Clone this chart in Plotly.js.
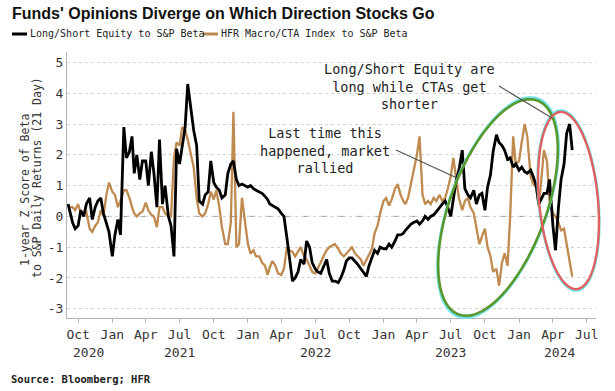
<!DOCTYPE html>
<html>
<head>
<meta charset="utf-8">
<script src="https://cdn.plot.ly/plotly-3.0.1.min.js"></script>
<style>
html,body{margin:0;padding:0;background:#fff;}
#chart{width:615px;height:391px;}
</style>
</head>
<body>
<div id="chart"></div>
<script>
// ---------------- DATA ----------------
// Sampling calendar: four observations per month (first month starts on the 4th)
const firstYear = 2020, firstMonth = 9, lastYear = 2024, lastMonth = 5;
const sampleDays = [1, 8, 16, 23];

// Long/Short Equity to S&P Beta (1-yr z-score), Sep 2020 .. May 2024
const lseBeta = [
  0.4, 0.2, -0.2, -0.4,      // 2020 Sep
  -0.3, 0.2, 0.0, 0.4,       // Oct
  0.6, -0.1, 0.3, 0.5,       // Nov
  0.6, 0.1, -0.2, -0.5,      // Dec
  -1.3, -0.6, -0.1, -0.6,    // 2021 Jan
  2.9, 1.9, 2.1, 2.6,        // Feb
  1.4, 2.0, 1.2, 1.8,        // Mar
  1.8, 1.0, 2.1, 1.4,        // Apr
  0.3, 2.5, 0.4, 1.0,        // May
  0.0, -0.3, -1.3, 2.2,      // Jun
  1.7, 2.3, 2.9, 4.3,        // Jul
  3.4, 2.8, 2.3, 0.5,        // Aug
  0.4, 0.7, 0.8, 1.8,        // Sep
  1.1, 0.95, 0.85, 0.6,      // Oct
  0.7, 1.4, 1.7, 1.8,        // Nov
  1.2, 1.0, 1.05, 1.0,       // Dec
  0.95, 1.0, 0.9, 0.85,      // 2022 Jan
  0.8, 0.75, 0.65, 0.55,     // Feb
  0.4, 0.35, 0.3, 0.25,      // Mar
  0.1, 0.0, -0.7, -1.4,      // Apr
  -2.1, -2.0, -1.8, -1.4,    // May
  -1.55, -0.8, -1.0, -1.5,   // Jun
  -1.7, -1.8, -1.85, -1.65,  // Jul
  -1.4, -1.85, -2.1, -2.1,   // Aug
  -2.15, -2.0, -1.75, -1.45, // Sep
  -1.35, -1.35, -1.45, -1.55,// Oct
  -1.7, -1.8, -1.95, -1.6,   // Nov
  -1.3, -1.1, -1.2, -1.0,    // Dec
  -1.05, -1.05, -0.9, -1.0,  // 2023 Jan
  -0.8, -0.6, -0.6, -0.55,   // Feb
  -0.45, -0.35, -0.25, -0.2, // Mar
  -0.15, -0.25, -0.15, 0.0,  // Apr
  -0.1, 0.0, 0.05, 0.15,     // May
  0.3, 0.4, 0.5, 0.3,        // Jun
  0.0, 0.6, 1.2, 1.5,        // Jul
  2.15, 0.9, 0.7, 0.6,       // Aug
  0.85, 0.4, 0.7, 0.75,      // Sep
  0.2, 0.95, 1.35, 2.1,      // Oct
  2.65, 2.4, 2.3, 2.15,      // Nov
  1.85, 1.9, 1.6, 1.7,       // Dec
  1.5, 1.6, 1.45, 1.4,       // 2024 Jan
  1.5, 1.3, 1.0, 0.4,        // Feb
  0.6, 0.75, 0.75, 1.2,      // Mar
  -0.3, -1.1, 0.3, 1.2,      // Apr
  1.7, 2.7, 3.0, 2.15        // May
];

// HFR Macro/CTA Index to S&P Beta (1-yr z-score), Sep 2020 .. May 2024
const hfrBeta = [
  0.3, 0.3, 0.3, 0.2,        // 2020 Sep
  0.4, 0.1, 0.1, 0.15,       // Oct
  -0.4, -0.5, -0.3, -0.2,    // Nov
  0.2, 0.0, 0.7, 1.1,        // Dec
  0.8, 0.7, 0.3, 0.5,        // 2021 Jan
  0.85, 0.85, 0.6, 0.3,      // Feb
  0.1, 0.0, 0.1, 0.15,       // Mar
  0.45, 0.2, 0.05, 0.0,      // Apr
  -0.35, 0.3, 0.3, 0.1,      // May
  0.0, 0.0, 1.9, 2.4,        // Jun
  2.3, 2.9, 2.8, 2.5,        // Jul
  2.0, 1.6, 0.6, 0.1,        // Aug
  0.0, 0.1, 0.4, 0.8,        // Sep
  0.55, 0.85, 0.3, -0.35,    // Oct
  -0.9, -0.9, -0.2, 3.4,     // Nov
  -1.0, -0.9, 0.6, 0.0,      // Dec
  -0.9, -1.2, -1.1, -1.3,    // 2022 Jan
  -1.3, -1.5, -1.6, -1.9,    // Feb
  -1.65, -1.45, -1.6, -1.85, // Mar
  -1.9, -1.7, -1.0, -1.1,    // Apr
  -1.15, -1.3, -1.15, -1.0,  // May
  -1.3, -1.4, -1.6, -1.8,    // Jun
  -1.85, -1.7, -1.5, -1.3,   // Jul
  -1.1, -1.0, -0.95, -0.9,   // Aug
  -1.05, -1.2, -1.3, -1.2,   // Sep
  -1.1, -1.0, -1.2, -1.3,    // Oct
  -1.4, -1.6, -1.4, -1.25,   // Nov
  -1.05, -0.55, -0.3, 0.1,   // Dec
  0.5, 0.6, 0.35, 0.55,      // 2023 Jan
  0.9, 1.05, 0.7, 0.5,       // Feb
  0.4, 0.6, 1.1, 1.5,        // Mar
  2.0, 2.6, 0.7, 0.4,        // Apr
  0.5, 0.4, 0.6, 0.5,        // May
  0.7, 0.5, 0.6, 0.9,        // Jun
  1.3, 1.9, 1.2, 0.6,        // Jul
  0.2, 0.5, 0.6, 0.3,        // Aug
  0.1, -0.4, -0.9, -0.65,    // Sep
  -0.4, -1.0, -1.3, -1.8,    // Oct
  -1.7, -2.25, -1.5, -1.2,   // Nov
  -1.6, 0.0, 2.6, 1.7,       // Dec
  1.8, 2.4, 3.0, 2.6,        // 2024 Jan
  1.3, 1.05, 0.95, 0.3,      // Feb
  1.3, 2.15, 1.8, 0.5,       // Mar
  0.1, 0.0, -0.2, -0.45,     // Apr
  -0.4, -0.9, -1.5, -1.95    // May
];

const seriesNames = ['Long/Short Equity to S&P Beta', 'HFR Macro/CTA Index to S&P Beta'];

const tickDates = ['2020-10-01','2021-01-01','2021-04-01','2021-07-01','2021-10-01','2022-01-01',
  '2022-04-01','2022-07-01','2022-10-01','2023-01-01','2023-04-01','2023-07-01','2023-10-01',
  '2024-01-01','2024-04-01','2024-07-01'];
const tickLabels = ['Oct','Jan','Apr','Jul','Oct','Jan','Apr','Jul','Oct','Jan','Apr','Jul','Oct','Jan','Apr','Jul'];
const yearLabels = ['2020','2021','2022','2023','2024'];
const yearLabelDates = ['2020-10-28','2021-07-01','2022-07-01','2023-07-01','2024-04-20'];
const yTickVals = [-3,-2,-1,0,1,2,3,4,5];
const yTickText = ['-3','-2','-1','0','1','2','3','4','5'];

// ---------------- BUILD ----------------
function pad2(n){ return String(n).padStart(2,'0'); }
function buildDates(){
  const out = [];
  let y = firstYear, m = firstMonth;
  while (y < lastYear || (y === lastYear && m <= lastMonth)) {
    sampleDays.forEach(function(d){
      const day = (y === firstYear && m === firstMonth && d === 1) ? 4 : d;
      out.push(y + '-' + pad2(m) + '-' + pad2(day));
    });
    m++; if (m > 12) { m = 1; y++; }
  }
  return out;
}
const dates = buildDates();

// geometry (pixels)
const W = 615, H = 391;
const M = {l: 67, r: 19, t: 52, b: 73};
const PW = W - M.l - M.r, PH = H - M.t - M.b;
function px(x){ return (x - M.l) / PW; }
function py(y){ return (H - M.b - y) / PH; }

function ellipsePath(cx, cy, a, b, phiDeg){
  const phi = phiDeg * Math.PI / 180;
  let p = '';
  for (let k = 0; k <= 96; k++) {
    const t = k / 96 * 2 * Math.PI;
    const ux = a * Math.cos(t), uy = b * Math.sin(t);
    const dx = ux * Math.cos(phi) - uy * Math.sin(phi);
    const dy = ux * Math.sin(phi) + uy * Math.cos(phi);
    p += (k ? 'L' : 'M') + px(cx + dx).toFixed(5) + ',' + py(cy - dy).toFixed(5);
  }
  return p + 'Z';
}

const MONO = 'DejaVu Sans Mono, monospace';
const BLACK = '#000000', TAN = '#BF8A4F';

const traces = [
  {x: dates, y: hfrBeta, type: 'scatter', mode: 'lines', name: seriesNames[1],
   line: {color: TAN, width: 2.3}},
  {x: dates, y: lseBeta, type: 'scatter', mode: 'lines', name: seriesNames[0],
   line: {color: BLACK, width: 2.8}}
];

const shapes = [
  {type:'line', xref:'paper', yref:'y', x0:0, x1:1, y0:0, y1:0, layer:'below',
   line:{color:'#999999', width:1, dash:'dash'}},
  // legend samples
  {type:'line', xref:'paper', yref:'paper', x0:px(12), x1:px(27), y0:py(34), y1:py(34),
   line:{color:BLACK, width:3}},
  {type:'line', xref:'paper', yref:'paper', x0:px(203), x1:px(218), y0:py(34), y1:py(34),
   line:{color:TAN, width:3}},
  // ellipse glows
  {type:'path', xref:'paper', yref:'paper', path: ellipsePath(498, 207.5, 116, 48.5, 69.8),
   line:{color:'#6FE3EA', width:2.5}, fillcolor:'rgba(0,0,0,0)', layer:'above'},
  {type:'path', xref:'paper', yref:'paper', path: ellipsePath(568.5, 200.5, 90.5, 29.8, 95.4),
   line:{color:'#6FE3EA', width:2.5}, fillcolor:'rgba(0,0,0,0)', layer:'above'},
  // ellipses
  {type:'path', xref:'paper', yref:'paper', path: ellipsePath(498, 207.5, 114, 48, 69.8),
   line:{color:'#58982E', width:2.6}, fillcolor:'rgba(0,0,0,0)', layer:'above'},
  {type:'path', xref:'paper', yref:'paper', path: ellipsePath(568.5, 200.5, 89, 29.4, 95.4),
   line:{color:'#E06060', width:2.4}, fillcolor:'rgba(0,0,0,0)', layer:'above'},
  // callout lines
  {type:'line', xref:'paper', yref:'paper', x0:px(396), y0:py(150), x1:px(457), y1:py(178),
   line:{color:'#555555', width:1.2}, layer:'above'},
  {type:'line', xref:'paper', yref:'paper', x0:px(499), y0:py(86), x1:px(552), y1:py(118),
   line:{color:'#555555', width:1.2}, layer:'above'}
];

const annotations = [
  // legend text
  {xref:'paper', yref:'paper', x:px(28), y:py(34), xanchor:'left', yanchor:'middle', showarrow:false,
   text:seriesNames[0], font:{family:MONO, size:10, color:'#222'}},
  {xref:'paper', yref:'paper', x:px(219), y:py(34), xanchor:'left', yanchor:'middle', showarrow:false,
   text:seriesNames[1], font:{family:MONO, size:10, color:'#222'}},
  // y-axis title lines
  {xref:'paper', yref:'paper', x:px(25), y:py(190), xanchor:'center', yanchor:'middle', showarrow:false,
   textangle:-90, text:'1-year Z Score of Beta', font:{family:MONO, size:11.5, color:'#333'}},
  {xref:'paper', yref:'paper', x:px(37), y:py(178), xanchor:'center', yanchor:'middle', showarrow:false,
   textangle:-90, text:'to S&P Daily Returns (21 Day)', font:{family:MONO, size:11.5, color:'#333'}},
  // callouts
  {xref:'paper', yref:'paper', x:px(325), y:py(150), xanchor:'center', yanchor:'middle', showarrow:false,
   align:'center', text:'Last time this<br>happened, market<br>rallied', font:{family:MONO, size:13.5, color:'#222'}},
  {xref:'paper', yref:'paper', x:px(409), y:py(86), xanchor:'center', yanchor:'middle', showarrow:false,
   align:'center', text:'Long/Short Equity are<br>long while CTAs get<br>shorter', font:{family:MONO, size:13.5, color:'#222'}},
  // source
  {xref:'paper', yref:'paper', x:px(9), y:py(379), xanchor:'left', yanchor:'middle', showarrow:false,
   text:'Source: Bloomberg; HFR', font:{family:MONO, size:10.5, color:'#222', weight:'bold'}}
];
yearLabels.forEach(function(t, i){
  annotations.push({xref:'x', yref:'paper', x:yearLabelDates[i], y:py(352), xanchor:'center', yanchor:'middle',
    showarrow:false, text:t, font:{family:MONO, size:13, color:'#333'}});
});

const layout = {
  width: W, height: H,
  margin: {l: M.l, r: M.r, t: M.t, b: M.b, pad: 0},
  paper_bgcolor: '#ffffff', plot_bgcolor: '#ffffff',
  showlegend: false,
  title: {text: "Funds' Opinions Diverge on Which Direction Stocks Go",
    font: {family: 'Liberation Sans, Arial, sans-serif', size: 16, color: '#111', weight: 700},
    xref: 'container', yref: 'container', x: 12/W, xanchor: 'left', y: 1 - 13/H, yanchor: 'middle'},
  xaxis: {type: 'date', range: ['2020-09-01', '2024-07-26'], tickvals: tickDates, ticktext: tickLabels,
    ticks: 'outside', ticklen: 4, tickcolor: '#b5b5b5', showline: true, linecolor: '#b5b5b5', linewidth: 1,
    showgrid: false, zeroline: false, tickangle: 0,
    tickfont: {family: MONO, size: 13, color: '#333'}},
  yaxis: {range: [-3.3, 5.34], tickvals: yTickVals, ticktext: yTickText,
    showline: true, linecolor: '#b5b5b5', linewidth: 1, ticks: '',
    showgrid: true, gridcolor: '#d2d2d2', griddash: 'dot', gridwidth: 1, zeroline: false,
    tickfont: {family: MONO, size: 13, color: '#333'}},
  shapes: shapes,
  annotations: annotations
};

Plotly.newPlot('chart', traces, layout, {staticPlot: true, displayModeBar: false});
</script>
</body>
</html>
